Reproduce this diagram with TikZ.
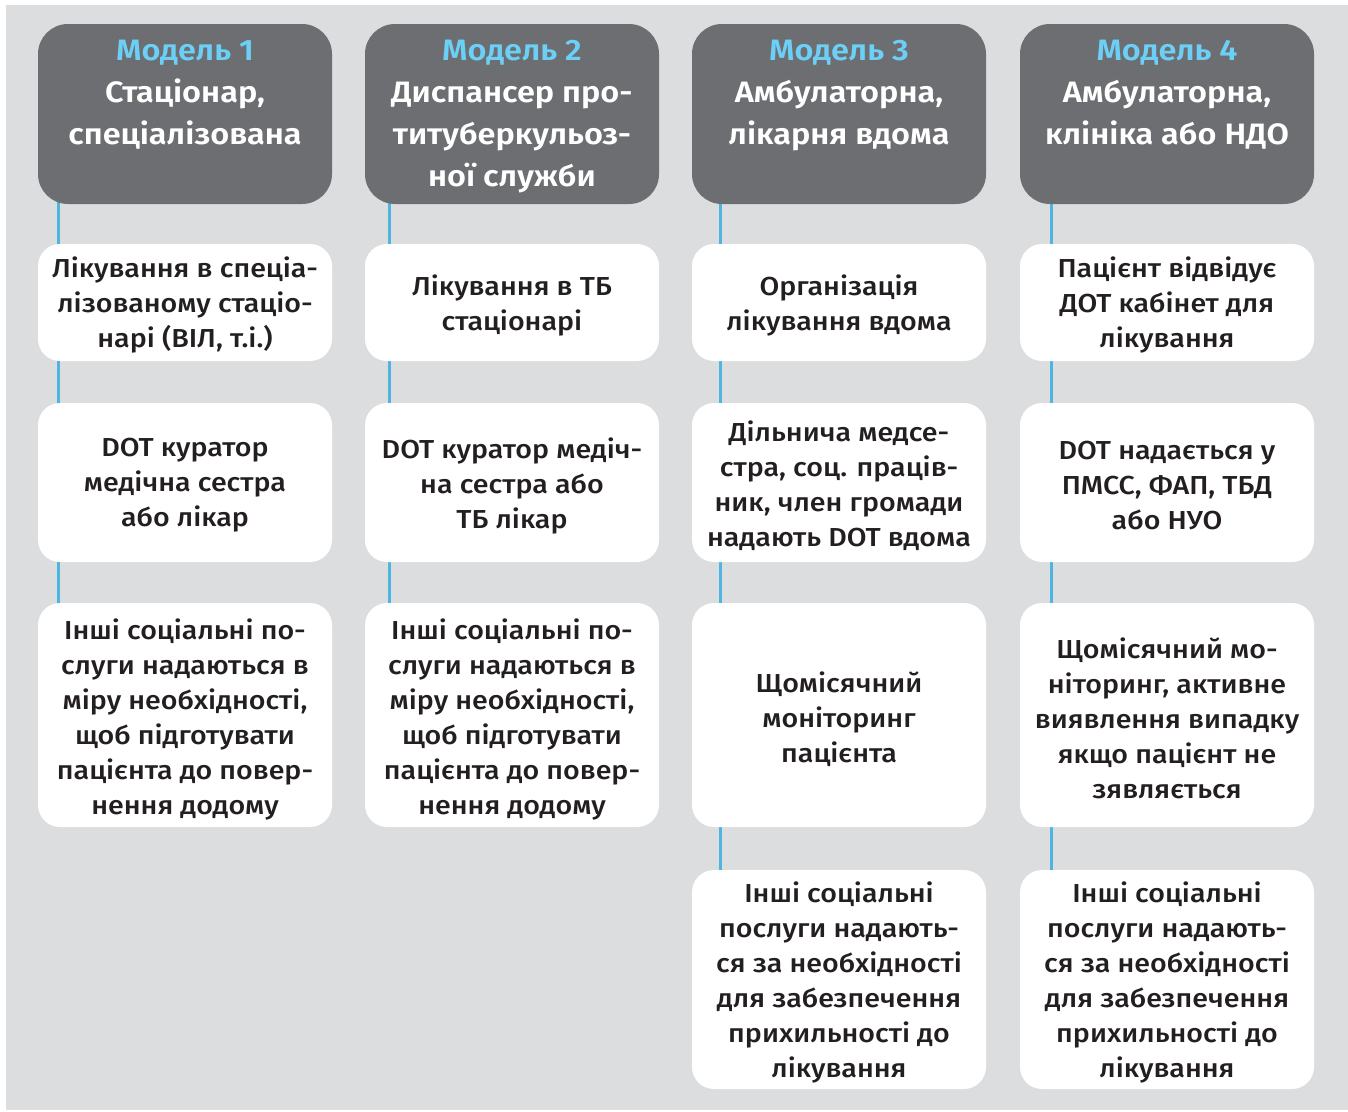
\documentclass[tikz,border=0pt]{standalone}
\usepackage{fontspec}
\setmainfont{Fira Sans}[UprightFont={* Medium},BoldFont={* SemiBold},FakeStretch=1.1]
\usetikzlibrary{calc}
\definecolor{bg}{HTML}{DCDDDF}
\definecolor{hdr}{HTML}{6D6E71}
\definecolor{sky}{HTML}{6CCFF6}
\definecolor{lnk}{HTML}{4DB6E0}
\definecolor{ink}{HTML}{231F20}
\pgfdeclarelayer{bgl}
\pgfsetlayers{bgl,main}
\begin{document}
\begin{tikzpicture}[x=1pt,y=-1pt,
  hbox/.style={fill=hdr, rounded corners=30pt, minimum width=294pt, minimum height=180pt, inner sep=0pt},
  wbox/.style={fill=white, rounded corners=22pt, minimum width=294pt, inner sep=0pt},
  wtxt/.style={align=center, text=ink, inner sep=0pt, font=\fontsize{26}{35}\selectfont},
  htxt/.style={anchor=north, align=center, text=white, font=\bfseries\fontsize{29.5}{42}\selectfont, inner sep=0pt},
  conn/.style={draw=lnk, line width=3pt}]
\useasboundingbox (0,0) rectangle (1348,1111);
% column line x positions
\coordinate (x1) at (58,0);
\coordinate (x2) at (389,0);
\coordinate (x3) at (720,0);
\coordinate (x4) at (1051,0);
% headers
\node[hbox] (h1) at (185,114) {};
\node[hbox] (h2) at (512,114) {};
\node[hbox] (h3) at (839,114) {};
\node[hbox] (h4) at (1167,114) {};
\node[htxt] (t1) at ($(h1.north)+(0,16)$) {\textcolor{sky}{Модель 1}\\Стаціонар,\\спеціалізована};
\node[htxt] (t2) at ($(h2.north)+(0,16)$) {\textcolor{sky}{Модель 2}\\Диспансер про-\\титуберкульоз-\\ної служби};
\node[htxt] (t3) at ($(h3.north)+(0,16)$) {\textcolor{sky}{Модель 3}\\Амбулаторна,\\лікарня вдома};
\node[htxt] (t4) at ($(h4.north)+(0,16)$) {\textcolor{sky}{Модель 4}\\Амбулаторна,\\клініка або НДО};
% row 1
\node[wbox, minimum height=117pt] (a1) at (185,302.5) {};
\node[wbox, minimum height=117pt] (a2) at (512,302.5) {};
\node[wbox, minimum height=117pt] (a3) at (839,302.5) {};
\node[wbox, minimum height=117pt] (a4) at (1167,302.5) {};
\node[wtxt] (ta1) at ($(a1)+(0,2.5)$) {Лікування в спеціа-\\лізованому стаціо-\\нарі (ВІЛ, т.і.)};
\node[wtxt] (ta2) at ($(a2)+(0,2.5)$) {Лікування в ТБ\\стаціонарі};
\node[wtxt] (ta3) at ($(a3)+(0,2.5)$) {Організація\\лікування вдома};
\node[wtxt] (ta4) at ($(a4)+(0,2.5)$) {Пацієнт відвідує\\ДОТ кабінет для\\лікування};
% row 2
\node[wbox, minimum height=159pt] (b1) at (185,482.5) {};
\node[wbox, minimum height=159pt] (b2) at (512,482.5) {};
\node[wbox, minimum height=159pt] (b3) at (839,482.5) {};
\node[wbox, minimum height=159pt] (b4) at (1167,482.5) {};
\node[wtxt] (tb1) at ($(b1)+(0,3)$) {DOT куратор\\медічна сестра\\або лікар};
\node[wtxt] (tb2) at ($(b2)+(0,3)$) {DOT куратор медіч-\\на сестра або\\ТБ лікар};
\node[wtxt] (tb3) at ($(b3)+(0,3)$) {Дільнича медсе-\\стра, соц. праців-\\ник, член громади\\надають DOT вдома};
\node[wtxt] (tb4) at ($(b4)+(0,3)$) {DOT надається у\\ПМСС, ФАП, ТБД\\або НУО};
% row 3
\node[wbox, minimum height=224pt] (c1) at (185,715) {};
\node[wbox, minimum height=224pt] (c2) at (512,715) {};
\node[wbox, minimum height=224pt] (c3) at (839,715) {};
\node[wbox, minimum height=224pt] (c4) at (1167,715) {};
\node[wtxt] (tc1) at ($(c1)+(0,4)$) {Інші соціальні по-\\слуги надаються в\\міру необхідності,\\щоб підготувати\\пацієнта до повер-\\нення додому};
\node[wtxt] (tc2) at ($(c2)+(0,4)$) {Інші соціальні по-\\слуги надаються в\\міру необхідності,\\щоб підготувати\\пацієнта до повер-\\нення додому};
\node[wtxt] (tc3) at ($(c3)+(0,4)$) {Щомісячний\\моніторинг\\пацієнта};
\node[wtxt] (tc4) at ($(c4)+(0,3)$) {Щомісячний мо-\\ніторинг, активне\\виявлення випадку\\якщо пацієнт не\\зявляється};
% row 4
\node[wbox, minimum height=219pt] (d3) at (839,979.5) {};
\node[wbox, minimum height=219pt] (d4) at (1167,979.5) {};
\node[wtxt] (td3) at ($(d3)+(0,3)$) {Інші соціальні\\послуги надають-\\ся за необхідності\\для забезпечення\\прихильності до\\лікування};
\node[wtxt] (td4) at ($(d4)+(0,3)$) {Інші соціальні\\послуги надають-\\ся за необхідності\\для забезпечення\\прихильності до\\лікування};
% background and connectors
\begin{pgfonlayer}{bgl}
\fill[bg] (6,5) rectangle (1348,1110);
\draw[conn] (h1 -| x1) -- (a1 -| x1) -- (b1 -| x1) -- (c1 -| x1);
\draw[conn] (h2 -| x2) -- (a2 -| x2) -- (b2 -| x2) -- (c2 -| x2);
\draw[conn] (h3 -| x3) -- (a3 -| x3) -- (b3 -| x3) -- (c3 -| x3) -- (d3 -| x3);
\draw[conn] (h4 -| x4) -- (a4 -| x4) -- (b4 -| x4) -- (c4 -| x4) -- (d4 -| x4);
\end{pgfonlayer}
\end{tikzpicture}
\end{document}
